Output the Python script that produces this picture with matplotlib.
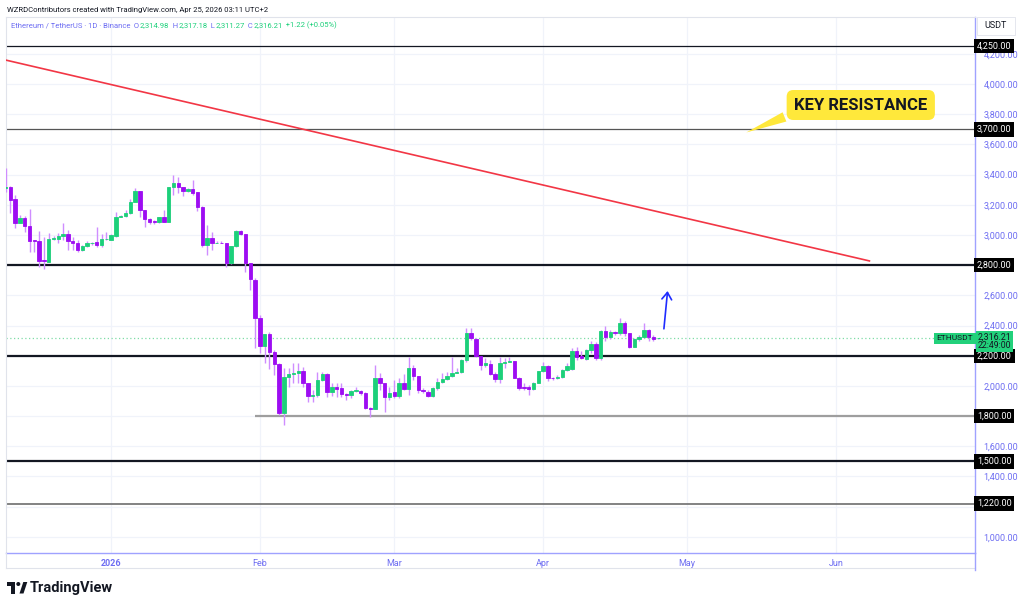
import numpy as np
import pandas as pd
import matplotlib
matplotlib.use('Agg')
import matplotlib.pyplot as plt
import matplotlib.dates as mdates
from matplotlib.patches import Rectangle, Polygon, Circle
from matplotlib.transforms import blended_transform_factory

plt.rcParams['font.family'] = ['Roboto', 'DejaVu Sans']

# daily candles ETH/USDT (Binance)
dates = pd.date_range('2025-12-10', '2026-04-25', freq='D')

opens = [3310, 3320, 3236, 3082, 3110, 3060, 2965, 2958, 2832, 2823,
         2975, 2974, 2996, 3007, 2960, 2945, 2901, 2927, 2947, 2951,
         2934, 2971, 2967, 2996, 3121, 3126, 3144, 3221, 3294, 3166,
         3104, 3090, 3084, 3117, 3088, 3320, 3347, 3316, 3294, 3305,
         3283, 3188, 2934, 2978, 2947, 2950, 2949, 2812, 2927, 3027,
         3007, 2817, 2702, 2448, 2265, 2342, 2227, 2143, 1819, 2057,
         2079, 2088, 2099, 2018, 1934, 1940, 2040, 2079, 1962, 1995,
         1989, 1945, 1940, 1967, 1967, 1956, 1855, 1848, 2051, 2022,
         1925, 1960, 1934, 2018, 1978, 2117, 2066, 1973, 1962, 1934,
         1984, 2029, 2044, 2066, 2088, 2095, 2172, 2349, 2309, 2199,
         2139, 2144, 2077, 2046, 2150, 2161, 2166, 2055, 1991, 1991,
         1978, 2022, 2099, 2133, 2055, 2050, 2058, 2106, 2110, 2234,
         2200, 2180, 2238, 2278, 2183, 2364, 2322, 2355, 2349, 2415,
         2349, 2260, 2309, 2327, 2371, 2327, 2314.98]
closes = [3320, 3232, 3082, 3110, 3060, 2962, 2960, 2830, 2826, 2974,
          2980, 2996, 3007, 2960, 2945, 2901, 2927, 2945, 2950, 2934,
          2971, 2974, 3000, 3121, 3126, 3144, 3221, 3294, 3166, 3104,
          3084, 3084, 3117, 3088, 3320, 3347, 3316, 3294, 3305, 3280,
          3188, 2934, 2978, 2945, 2950, 2947, 2812, 2927, 3027, 3007,
          2815, 2706, 2448, 2265, 2342, 2227, 2143, 1819, 2057, 2079,
          2088, 2099, 2018, 1934, 1940, 2040, 2079, 1962, 1995, 1980,
          1947, 1940, 1967, 1971, 1956, 1852, 1850, 2051, 2022, 1925,
          1956, 1930, 2018, 1978, 2117, 2066, 1973, 1965, 1934, 1984,
          2029, 2044, 2066, 2088, 2095, 2172, 2349, 2316, 2199, 2139,
          2150, 2077, 2046, 2150, 2161, 2168, 2055, 1985, 1985, 1978,
          2022, 2099, 2133, 2051, 2050, 2058, 2106, 2130, 2234, 2190,
          2185, 2238, 2278, 2183, 2364, 2322, 2355, 2349, 2415, 2349,
          2260, 2309, 2327, 2371, 2327, 2309, 2316.21]
highs = [3441, 3325, 3265, 3132, 3126, 3170, 2967, 3029, 2989, 3015,
         2993, 3011, 3077, 3033, 2989, 2967, 2934, 2960, 2956, 3055,
         3007, 3022, 3007, 3150, 3132, 3166, 3236, 3309, 3294, 3166,
         3110, 3100, 3121, 3166, 3320, 3397, 3382, 3320, 3309, 3364,
         3287, 3192, 3066, 3022, 2960, 2962, 2949, 2927, 3033, 3033,
         3007, 2817, 2713, 2470, 2342, 2360, 2238, 2150, 2117, 2117,
         2150, 2150, 2128, 2022, 1973, 2095, 2095, 2084, 2018, 2018,
         2018, 1951, 1973, 1995, 1973, 1960, 1860, 2139, 2084, 2022,
         1995, 2040, 2051, 2079, 2194, 2139, 2066, 1984, 1973, 1995,
         2051, 2084, 2095, 2194, 2117, 2177, 2382, 2382, 2316, 2199,
         2183, 2172, 2095, 2194, 2183, 2194, 2166, 2062, 2022, 2007,
         2029, 2099, 2160, 2140, 2062, 2070, 2110, 2150, 2250, 2260,
         2230, 2245, 2300, 2290, 2371, 2400, 2371, 2362, 2450, 2430,
         2349, 2315, 2335, 2420, 2375, 2340, 2317.18]
lows = [3287, 3144, 3044, 3077, 3022, 2890, 2890, 2790, 2773, 2823,
        2967, 2945, 2967, 2901, 2901, 2890, 2896, 2918, 2934, 2918,
        2918, 2967, 2967, 2989, 3117, 3121, 3140, 3216, 3121, 3055,
        3073, 3073, 3077, 3084, 3088, 3265, 3276, 3258, 3287, 3265,
        3161, 2918, 2868, 2901, 2945, 2945, 2786, 2808, 2918, 3000,
        2757, 2636, 2249, 2216, 2154, 2110, 2073, 1808, 1742, 1995,
        2018, 2018, 1995, 1896, 1896, 1929, 2035, 1929, 1936, 1929,
        1929, 1907, 1918, 1960, 1940, 1845, 1797, 1845, 1973, 1830,
        1907, 1918, 1918, 1973, 1940, 2040, 1951, 1951, 1929, 1929,
        1973, 2018, 2040, 2062, 2084, 2088, 2161, 2305, 2194, 2106,
        2128, 2073, 2029, 2022, 2117, 2161, 2051, 1974, 1974, 1940,
        1974, 2018, 2095, 2030, 2040, 2045, 2050, 2100, 2105, 2172,
        2175, 2172, 2220, 2172, 2172, 2300, 2310, 2340, 2340, 2330,
        2250, 2255, 2300, 2320, 2300, 2295, 2311.27]

# horizontal levels drawn on the chart
levels = [4250, 3700, 2800, 2200, 1800, 1500, 1220]
level_colors = ['#131722', '#555555', '#131722', '#131722', '#9e9e9e', '#131722', '#787878']
level_widths = [0.9, 0.9, 1.6, 1.6, 1.6, 1.6, 1.3]
level_starts = [None, None, None, None, '2026-01-31', None, None]

# descending trendline
trend_dates = ['2025-12-10', '2026-06-08']
trend_prices = [4159, 2828]

# projection arrow
arrow_from = ('2026-04-26 03:00', 2360)
arrow_to = ('2026-04-27 00:00', 2647)

last_price = 2316.21

months = ['2026-01-01', '2026-02-01', '2026-03-01', '2026-04-01', '2026-05-01', '2026-06-01']
month_labels = ['2026', 'Feb', 'Mar', 'Apr', 'May', 'Jun']

price_ticks = np.arange(1000, 4400, 200)
hidden_ticks = [2800, 2200, 1800, 1200]

UP = '#1cd07a'
DOWN = '#9d0df2'
WICK = '#cf8dff'
AXIS_TXT = '#6d6df2'
GRID = '#f0f3fa'

fig = plt.figure(figsize=(10.24, 6.06), dpi=100)
W, H = 1024, 606
ax = fig.add_axes([6 / W, 1 - 553 / H, (975 - 6) / W, (553 - 17) / H])

x = mdates.date2num(dates)
o = np.array(opens)
c = np.array(closes)
up = c >= o
body_col = np.where(up, UP, DOWN)

ax.vlines(x, lows, highs, colors=WICK, linewidth=1.0, zorder=3)
ax.bar(x, c - o, bottom=o, width=0.72, color=body_col, edgecolor=body_col,
       linewidth=0.6, zorder=4)

x0 = mdates.date2num(pd.Timestamp('2026-01-01'))
ax.set_xlim(x0 - 21.9, x0 + 180.0)
ax.set_ylim(893, 4444)

# levels
for lv, col, lw, st in zip(levels, level_colors, level_widths, level_starts):
    if st is None:
        ax.axhline(lv, color=col, linewidth=lw, zorder=2)
    else:
        ax.hlines(lv, mdates.date2num(pd.Timestamp(st)), ax.get_xlim()[1],
                  color=col, linewidth=lw, zorder=2)

ax.plot(mdates.date2num(pd.to_datetime(trend_dates)), trend_prices,
        color='#f23645', linewidth=1.2, zorder=5)

ax.axhline(last_price, color='#7fdca6', linewidth=0.9, linestyle=(0, (1, 2)), zorder=1)

ax.annotate('', xy=(mdates.date2num(pd.Timestamp(arrow_to[0])), arrow_to[1]),
            xytext=(mdates.date2num(pd.Timestamp(arrow_from[0])), arrow_from[1]),
            arrowprops=dict(arrowstyle='->,head_length=0.5,head_width=0.35',
                            color='#1f2cff', lw=1.2), zorder=6)

# callout
ax.annotate('KEY RESISTANCE',
            xy=(x0 + 131.8, 3672), xytext=(x0 + 156.2, 3861),
            ha='center', va='center', fontsize=12, fontweight='bold', color='#131722',
            bbox=dict(boxstyle='round,pad=0.45,rounding_size=0.4', fc='#ffe83b', ec='none'),
            arrowprops=dict(arrowstyle='wedge,tail_width=0.6,shrink_factor=0.5',
                            fc='#ffe83b', ec='none', relpos=(0.05, 0.15)),
            zorder=7)

# axes styling
ax.set_yticks(price_ticks)
ax.set_yticklabels(['' if t in hidden_ticks else f'{t:,.2f}' for t in price_ticks])
ax.yaxis.tick_right()
ax.tick_params(axis='y', length=0, pad=6, labelsize=6.5, labelcolor=AXIS_TXT)
ax.set_xticks(mdates.date2num(pd.to_datetime(months)))
ax.set_xticklabels(month_labels)
ax.tick_params(axis='x', length=0, pad=4, labelsize=6.5, labelcolor=AXIS_TXT)
ax.get_xticklabels()[0].set_fontweight('bold')
ax.grid(True, color=GRID, linewidth=0.9, zorder=0)
ax.set_axisbelow(True)
for side in ['top', 'left']:
    ax.spines[side].set_color('#e0e3eb')
    ax.spines[side].set_linewidth(0.8)
for side in ['bottom', 'right']:
    ax.spines[side].set_color('#9fa2ff')
    ax.spines[side].set_linewidth(1.0)

# price axis badges
btr = blended_transform_factory(ax.transAxes, ax.transData)
for lv in levels:
    ax.text(1.002, lv, f'{lv:,.2f}', transform=btr, ha='left', va='center',
            fontsize=6.5, color='white', clip_on=False, zorder=8,
            bbox=dict(boxstyle='square,pad=0.3', fc='#000000', ec='none'))
ax.text(0.998, last_price, 'ETHUSDT', transform=btr, ha='right', va='center',
        fontsize=6, color='#131722', clip_on=False, zorder=8,
        bbox=dict(boxstyle='square,pad=0.3', fc='#22d17b', ec='none'))
ax.annotate(f'{last_price:,.2f}\n22:49:00', xy=(1.0, last_price), xycoords=btr,
            xytext=(2, -2.3), textcoords='offset points', ha='left', va='center',
            fontsize=6.3, color='#131722', linespacing=0.95, annotation_clip=False,
            zorder=9, bbox=dict(boxstyle='square,pad=0.2', fc='#22d17b', ec='none'))

# overlay in pixel coordinates for header, footer, frame
ov = fig.add_axes([0, 0, 1, 1], zorder=10)
ov.set_xlim(0, W)
ov.set_ylim(H, 0)
ov.axis('off')
ov.patch.set_alpha(0)

ov.plot([6, 975], [568, 568], color='#e0e3eb', linewidth=0.8)
ov.plot([6, 6], [553, 568], color='#e0e3eb', linewidth=0.8)
ov.plot([975, 975], [553, 570], color='#9fa2ff', linewidth=1.0)
ov.add_patch(Rectangle((977, 17), 38, 18, fc='white', ec='#e0e3eb', lw=0.6))
ov.text(984, 26, 'USDT', fontsize=6.5, color='#131722', va='center')

ov.text(7, 10, 'WZRDContributors created with TradingView.com, Apr 25, 2026 03:11 UTC+2',
        fontsize=5.5, color='#131722', va='center')

fig.canvas.draw()
r = fig.canvas.get_renderer()
pieces = [('Ethereum / TetherUS · 1D · Binance', AXIS_TXT), ('  O', AXIS_TXT),
          ('2,314.98', UP), ('  H', AXIS_TXT), ('2,317.18', UP), ('  L', AXIS_TXT),
          ('2,311.27', UP), ('  C', AXIS_TXT), ('2,316.21', UP), ('  +1.22 (+0.05%)', UP)]
px = 11
for s, col in pieces:
    t = ov.text(px, 25.5, s, fontsize=5.5, color=col, va='center', ha='left')
    px += t.get_window_extent(renderer=r).width

# TradingView logo
ov.add_patch(Rectangle((7, 582), 8, 4, fc='#131722', ec='none'))
ov.add_patch(Rectangle((11, 582), 4, 11.5, fc='#131722', ec='none'))
ov.add_patch(Circle((18.3, 584), 2.0, fc='#131722', ec='none'))
ov.add_patch(Polygon([(19.5, 593.5), (23.3, 582), (27.3, 582), (23.5, 593.5)],
                     closed=True, fc='#131722', ec='none'))
ov.text(30, 588, 'TradingView', fontsize=10.5, fontweight='bold', color='#131722',
        va='center')

fig.savefig('out.png', dpi=100)
